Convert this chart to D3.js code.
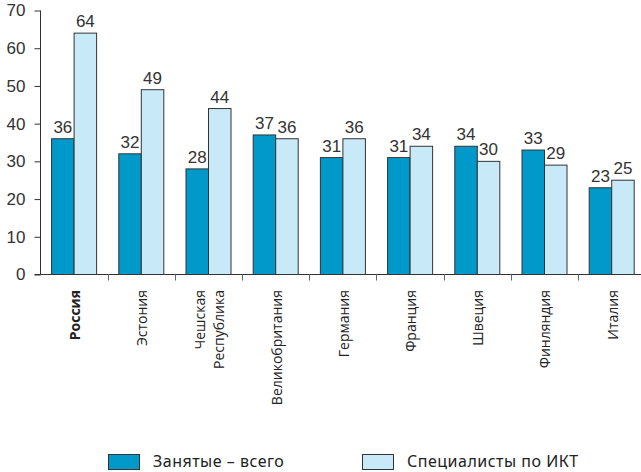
<!DOCTYPE html>
<html><head><meta charset="utf-8">
<script src="https://cdn.jsdelivr.net/npm/d3@7"></script>
<style>body{margin:0;background:#fff}svg{display:block}</style>
</head><body>
<svg id="c" width="641" height="472"></svg>
<script>
const categories = ["Россия","Эстония","Чешская\nРеспублика","Великобритания","Германия","Франция","Швеция","Финляндия","Италия"];
const seriesNames = ["Занятые – всего","Специалисты по ИКТ"];
const employedTotal = [36,32,28,37,31,31,34,33,23];
const ictSpecialists = [64,49,44,36,36,34,30,29,25];
const yTicks = [0,10,20,30,40,50,60,70];
const colors = ["#0099c9","#c8e9f8"];

const svg = d3.select("#c");
const numFont = "'Liberation Sans Narrow','Arial Narrow','Liberation Sans',sans-serif";
const x0 = 40.5, xEnd = 645.3, xAxisEnd = 641;
const y = d3.scaleLinear().domain([0,70]).range([274.5, 10.5]);
const x = d3.scaleBand().domain(categories).range([x0, xEnd]).paddingInner(0.33).paddingOuter(0.165);
const x1 = d3.scaleBand().domain([0,1]).range([0, x.bandwidth()]);
const step = x.step();

// bars
const series = [employedTotal, ictSpecialists];
const g = svg.append("g");
categories.forEach((c,i)=>{
  series.forEach((s,k)=>{
    const bx = x(c) + x1(k);
    g.append("rect").attr("x", bx).attr("y", y(s[i])).attr("width", x1.bandwidth()).attr("height", y(0)-y(s[i]))
      .attr("fill", colors[k]).attr("stroke", "#333").attr("stroke-width", 1);
    g.append("text").attr("x", bx + x1.bandwidth()/2).attr("y", y(s[i]) - 6)
      .attr("text-anchor","middle").attr("font-family", numFont).attr("font-size", 17).attr("fill","#333").text(s[i]);
  });
});

// y axis
const yAxis = d3.axisLeft(y).tickValues(yTicks).tickSize(6).tickPadding(9);
const ya = svg.append("g").attr("transform", `translate(${x0},0)`).call(yAxis);
ya.select(".domain").attr("d", `M0,${y(70)}V${y(0)}`).attr("stroke","#333");
ya.selectAll(".tick line").attr("stroke","#333");
ya.selectAll("text").attr("font-family", numFont).attr("font-size", 17).attr("fill","#333");

// x axis line
svg.append("line").attr("x1", x0-6).attr("x2", xAxisEnd).attr("y1", y(0)).attr("y2", y(0)).attr("stroke","#333");
categories.forEach((c,i)=>{
  const tx = Math.round(x0 + (i+1)*step) + 0.5;
  svg.append("line").attr("x1", tx).attr("x2", tx).attr("y1", y(0)).attr("y2", y(0)+6).attr("stroke","#666");
});

// x labels
categories.forEach((c,i)=>{
  const cx = x0 + (i+0.5)*step + 1;
  const lines = c.split("\n");
  const t = svg.append("text").attr("transform", `translate(${cx},290) rotate(-90)`)
    .attr("text-anchor","end").attr("font-family","'Open Sans','Noto Sans',sans-serif").attr("font-size", 14)
    .attr("fill","#222").attr("font-weight", i===0 ? "bold" : "normal");
  lines.forEach((l,j)=>{
    t.append("tspan").attr("x",0).attr("dy", j===0 ? (0.35 - (lines.length-1)*0.7)+"em" : "1.4em").text(l);
  });
});

// legend
const legX = [108, 362];
seriesNames.forEach((n,k)=>{
  svg.append("rect").attr("x", legX[k]+0.5).attr("y", 454.5).attr("width", 31).attr("height", 15)
    .attr("fill", colors[k]).attr("stroke","#333");
  svg.append("text").attr("x", legX[k]+45).attr("y", 466.5).attr("font-family","'Noto Sans',Roboto,sans-serif")
    .attr("font-size", 16).attr("letter-spacing", 0.5).attr("fill","#222").text(n);
});
</script>
</body></html>
